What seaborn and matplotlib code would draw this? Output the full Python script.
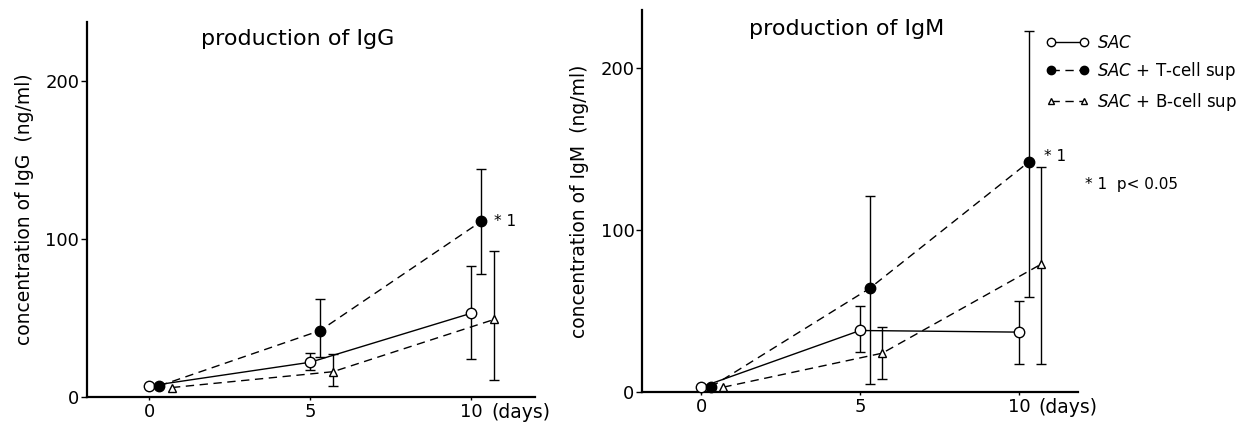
import numpy as np
import pandas as pd
import matplotlib
matplotlib.use("Agg")
import matplotlib.pyplot as plt
import seaborn as sns
from matplotlib.lines import Line2D

# ---------------- data ----------------
days = [0, 5, 10]
groups = ["SAC", "SAC + T-cell sup", "SAC + B-cell sup"]

igg_sac = [7, 22, 53]
igg_sac_lo = [0, 5, 29]
igg_sac_hi = [0, 6, 30]
igg_t = [7, 42, 111]
igg_t_lo = [0, 17, 33]
igg_t_hi = [0, 20, 33]
igg_b = [6, 16, 49]
igg_b_lo = [0, 9, 38]
igg_b_hi = [0, 11, 43]

igm_sac = [3, 38, 37]
igm_sac_lo = [0, 13, 20]
igm_sac_hi = [0, 15, 19]
igm_t = [3, 64, 142]
igm_t_lo = [0, 59, 83]
igm_t_hi = [0, 57, 81]
igm_b = [3, 24, 79]
igm_b_lo = [0, 16, 62]
igm_b_hi = [0, 16, 60]

# ---------------- style ----------------
sns.set_theme(style="ticks")
plt.rcParams["font.family"] = ["DejaVu Sans"]
plt.rcParams.update({
    "axes.linewidth": 1.6,
    "axes.edgecolor": "black",
    "text.color": "black",
    "axes.labelcolor": "black",
    "xtick.color": "black",
    "ytick.color": "black",
})

offsets = {groups[0]: 0.0, groups[1]: 0.3, groups[2]: 0.7}
styles = {
    groups[0]: dict(marker="o", mfc="white", mec="black", ms=7.5, ls="-"),
    groups[1]: dict(marker="o", mfc="black", mec="black", ms=7.5, ls=(0, (6, 4))),
    groups[2]: dict(marker="^", mfc="white", mec="black", ms=6, ls=(0, (6, 4))),
}


def make_df(vals, los, his):
    rows = []
    for g, v, lo, hi in zip(groups, vals, los, his):
        for d, y, l, h in zip(days, v, lo, hi):
            rows.append(dict(group=g, day=d, x=d + offsets[g], value=y, lo=l, hi=h))
    return pd.DataFrame(rows)


df_igg = make_df([igg_sac, igg_t, igg_b], [igg_sac_lo, igg_t_lo, igg_b_lo],
                 [igg_sac_hi, igg_t_hi, igg_b_hi])
df_igm = make_df([igm_sac, igm_t, igm_b], [igm_sac_lo, igm_t_lo, igm_b_lo],
                 [igm_sac_hi, igm_t_hi, igm_b_hi])

fig = plt.figure(figsize=(12.53, 4.28), dpi=100)
ax1 = fig.add_axes([0.0694, 0.0724, 0.3575, 0.876])
ax2 = fig.add_axes([0.5124, 0.0841, 0.348, 0.8925])


def draw(ax, df, xlim, ylim, title, ylabel, title_y):
    for g in groups:
        sub = df[df.group == g]
        st = styles[g]
        err = sub[sub.day > 0]
        ax.errorbar(err.x, err.value, yerr=[err.lo, err.hi], fmt="none",
                    ecolor="black", elinewidth=1.0, capsize=3.5, capthick=1.0, zorder=2)
        sns.lineplot(data=sub, x="x", y="value", ax=ax, color="black",
                     linewidth=1.0, legend=False, estimator=None, sort=False,
                     zorder=3, linestyle=st["ls"])
        ax.plot(sub.x, sub.value, linestyle="none", marker=st["marker"],
                markerfacecolor=st["mfc"], markeredgecolor=st["mec"],
                markersize=st["ms"], markeredgewidth=1.0, zorder=4, clip_on=False)
    ax.set_xlim(*xlim)
    ax.set_ylim(*ylim)
    ax.set_xticks([0, 5, 10])
    ax.set_xticklabels(["0", "5", "10"])
    ax.set_yticks([0, 100, 200])
    ax.tick_params(axis="x", labelsize=13, length=2.5, width=1.0, direction="out", pad=2)
    ax.tick_params(axis="y", labelsize=13, length=4, width=1.0, direction="out", pad=1.5)
    ax.spines["top"].set_visible(False)
    ax.spines["right"].set_visible(False)
    ax.set_xlabel("")
    ax.set_ylabel(ylabel, fontsize=13.5, labelpad=8)
    ax.text(0.47, title_y, title, transform=ax.transAxes, ha="center", va="center",
            fontsize=16)
    ax.annotate("(days)", xy=(10, 0), xycoords="data", xytext=(14, -4.5),
                textcoords="offset points", ha="left", va="top", fontsize=13.5,
                annotation_clip=False)


draw(ax1, df_igg, (-1.94, 11.97), (0, 237), "production of IgG",
     "concentration of IgG  (ng/ml)", 0.955)
draw(ax2, df_igm, (-1.86, 11.86), (0, 236), "production of IgM",
     "concentration of IgM  (ng/ml)", 0.95)

# significance marks
ax1.annotate("* 1", xy=(10.3, 111), xytext=(9, 0), textcoords="offset points",
             ha="left", va="center", fontsize=11)
ax2.annotate("* 1", xy=(10.4, 142), xytext=(9, 4), textcoords="offset points",
             ha="left", va="center", fontsize=11)
fig.text(1085 / 1253, 1 - 185 / 428, "* 1  p< 0.05", ha="left", va="center", fontsize=11)

# legend
handles = []
for g in groups:
    st = styles[g]
    handles.append(Line2D([0], [0], color="black", linewidth=1.0, linestyle=st["ls"],
                          marker=st["marker"], markerfacecolor=st["mfc"],
                          markeredgecolor=st["mec"], markersize=st["ms"] - 1.5))
labels = [r"$\it{SAC}$", r"$\it{SAC}$ + T-cell sup", r"$\it{SAC}$ + B-cell sup"]
ax2.legend(handles, labels, loc="upper left", bbox_to_anchor=(0.91, 0.955),
           frameon=False, numpoints=2, handlelength=2.6, fontsize=12,
           handletextpad=0.5, labelspacing=0.5, borderaxespad=0)

fig.savefig("out.png", dpi=100)
